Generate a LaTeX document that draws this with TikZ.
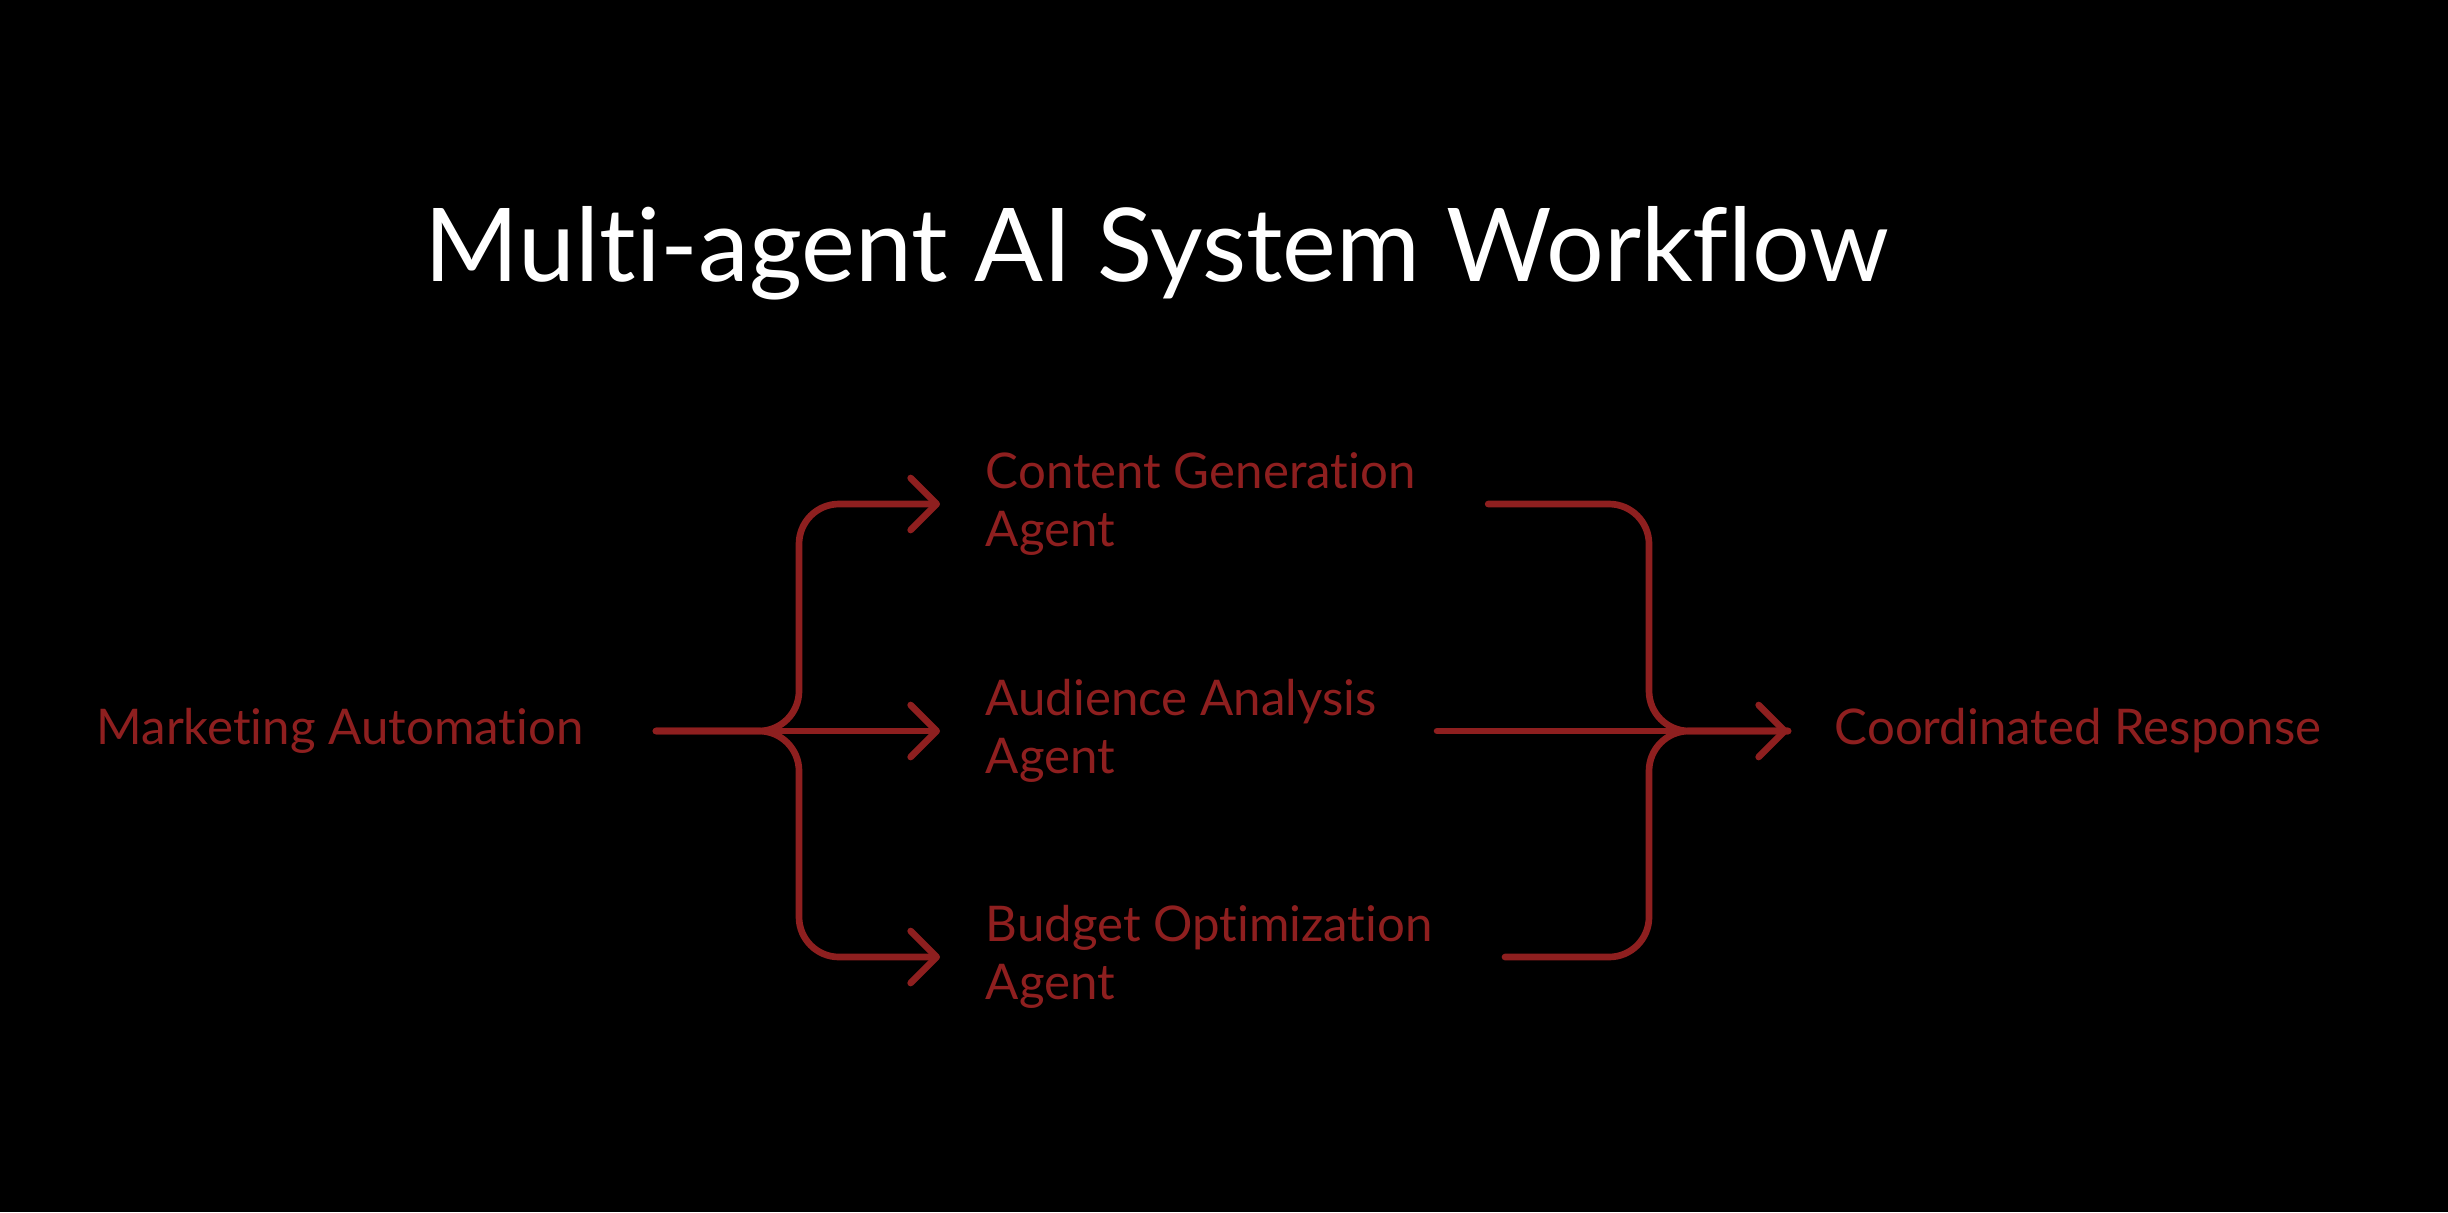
\documentclass[tikz,border=0pt]{standalone}
\usepackage{fontspec}
\setmainfont{Lato}[Ligatures={NoCommon}]
\usetikzlibrary{arrows.meta}
\definecolor{flowred}{RGB}{142,31,31}
\begin{document}
\begin{tikzpicture}
\tikzset{label/.style={text=flowred, inner sep=0pt, font=\fontsize{14}{16.5}\selectfont},
  agent/.style={label, align=left, anchor=west},
  flow/.style={draw=flowred, line width=1.9pt, line cap=round, rounded corners=0.4cm},
  flowarrow/.style={flow, -{Straight Barb[length=2.6mm, width=5.2mm, round]}}}
\fill[black] (0,0) rectangle (24.48,-12.12);
\useasboundingbox (0,0) rectangle (24.48,-12.12);
\node[text=white, anchor=base, font=\fontsize{29}{34}\selectfont] (title) at (11.57,-2.81) {Multi-agent AI System Workflow};
\node[label, anchor=east] (mkt) at (5.84,-7.31) {Marketing Automation};
\node[agent] (content) at (9.85,-5.04) {Content Generation\\Agent};
\node[agent] (audience) at (9.85,-7.31) {Audience Analysis\\Agent};
\node[agent] (budget) at (9.85,-9.57) {Budget Optimization\\Agent};
\node[label, anchor=west] (resp) at (18.34,-7.31) {Coordinated Response};
\coordinate (split) at (7.99,-7.31);
\coordinate (merge) at (16.49,-7.31);
\draw[flowarrow] ([xshift=7.2mm]mkt.east) -- ([xshift=-4.5mm]audience.west);
\draw[flowarrow] ([xshift=7.2mm]mkt.east) -- (split) |- ([xshift=-4.5mm]content.west);
\draw[flowarrow] ([xshift=7.2mm]mkt.east) -- (split) |- ([xshift=-4.5mm]budget.west);
\draw[flowarrow] ([xshift=6mm]audience.east) -- ([xshift=-4.6mm]resp.west);
\draw[flow] ([xshift=7.2mm]content.east) -| (merge) -- ([xshift=-4.6mm]resp.west);
\draw[flow] ([xshift=7.2mm]budget.east) -| (merge) -- ([xshift=-4.6mm]resp.west);
\end{tikzpicture}
\end{document}
